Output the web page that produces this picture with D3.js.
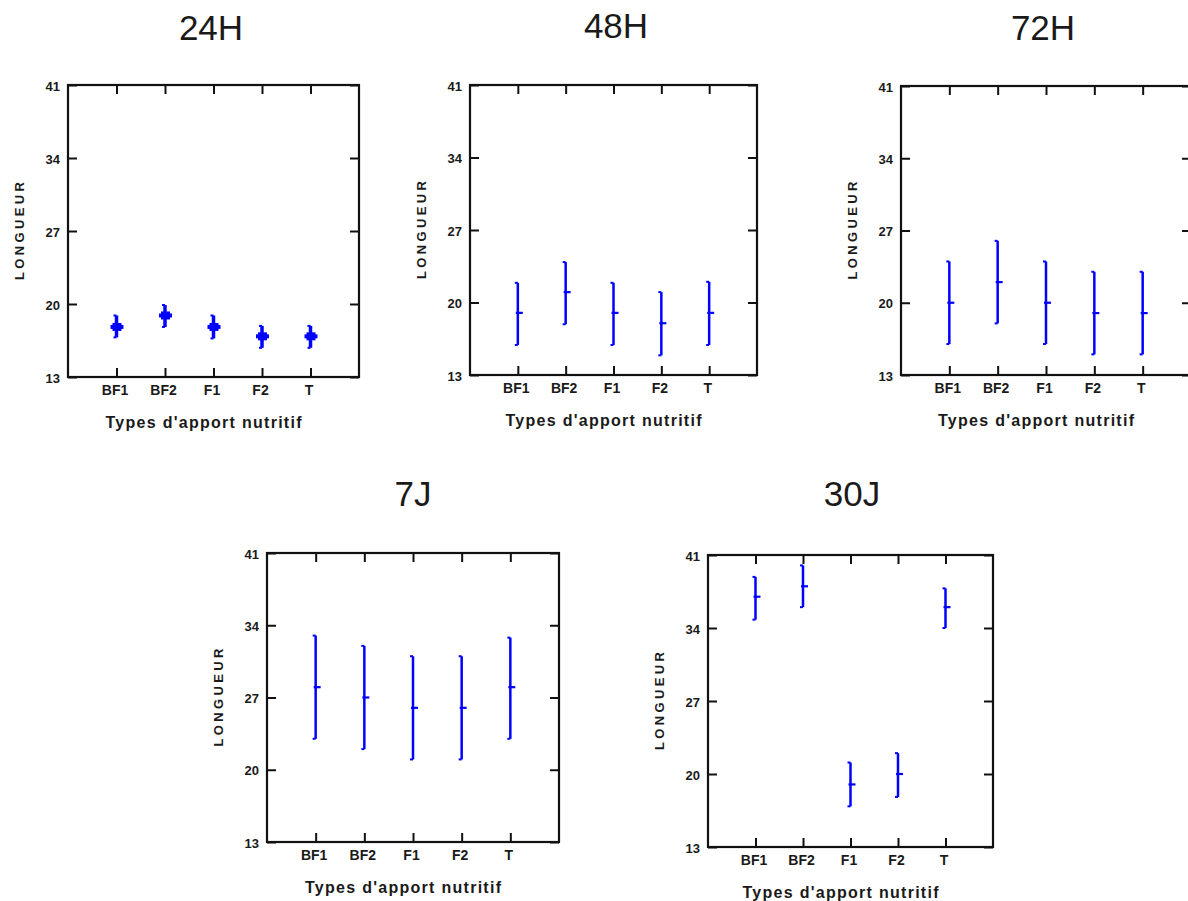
<!DOCTYPE html>
<html>
<head>
<meta charset="utf-8">
<script src="https://cdn.jsdelivr.net/npm/d3@7"></script>
<style>
  body { margin: 0; background: #fff; }
  svg { display: block; }
  text { font-family: "Liberation Sans", Arial, sans-serif; fill: #1a1a1a; }
</style>
</head>
<body>
<div id="chart"></div>
<script>
// data
var categories = ["BF1", "BF2", "F1", "F2", "T"];
var yTicks = [13, 20, 27, 34, 41];
var titles = ["24H", "48H", "72H", "7J", "30J"];

var mean24H = [17.8, 18.9, 17.8, 16.9, 16.9];
var low24H  = [16.8, 17.8, 16.7, 15.8, 15.8];
var high24H = [18.9, 19.9, 18.9, 17.9, 17.9];

var mean48H = [19, 21, 19, 18, 19];
var low48H  = [15.9, 17.9, 15.9, 14.9, 15.9];
var high48H = [21.9, 23.9, 21.9, 21, 22];

var mean72H = [20, 22, 20, 19, 19];
var low72H  = [16, 18, 16, 15, 15];
var high72H = [24, 26, 24, 23, 23];

var mean7J = [28, 27, 26, 26, 28];
var low7J  = [23, 22, 21, 21, 23];
var high7J = [33, 32, 31, 31, 32.8];

var mean30J = [37, 38, 19, 20, 36];
var low30J  = [34.8, 36, 16.9, 17.8, 34];
var high30J = [38.9, 40, 21.1, 22, 37.8];

var width = 1188, height = 901;

// panel frames (layout only)
var panels = [
  {title: titles[0], mean: mean24H, low: low24H, high: high24H, x0: 68,  x1: 359,  y0: 85,  y1: 377, tx: 211,  ty: 40,  big: true},
  {title: titles[1], mean: mean48H, low: low48H, high: high48H, x0: 470, x1: 757,  y0: 85,  y1: 375, tx: 616,  ty: 38},
  {title: titles[2], mean: mean72H, low: low72H, high: high72H, x0: 901, x1: 1191, y0: 86,  y1: 375, tx: 1043, ty: 40},
  {title: titles[3], mean: mean7J,  low: low7J,  high: high7J,  x0: 267, x1: 559,  y0: 553, y1: 842, tx: 413,  ty: 506},
  {title: titles[4], mean: mean30J, low: low30J, high: high30J, x0: 708, x1: 993,  y0: 555, y1: 847, tx: 852,  ty: 506}
];

var svg = d3.select("#chart").append("svg")
    .attr("width", width)
    .attr("height", height);

panels.forEach(function(p) {
  var g = svg.append("g");

  var x = d3.scalePoint().domain(categories).range([p.x0, p.x1]).padding(1);
  var y = d3.scaleLinear().domain([13, 41]).range([p.y1, p.y0]);

  // title
  g.append("text")
    .attr("x", p.tx).attr("y", p.ty)
    .attr("text-anchor", "middle")
    .style("font-size", "35px")
    .text(p.title);

  // axes with inward ticks
  var left = g.append("g").attr("transform", "translate(" + p.x0 + ",0)")
    .call(d3.axisLeft(y).tickValues(yTicks).tickSizeInner(-9).tickSizeOuter(0).tickPadding(8));
  var right = g.append("g").attr("transform", "translate(" + p.x1 + ",0)")
    .call(d3.axisRight(y).tickValues(yTicks).tickSizeInner(-9).tickSizeOuter(0).tickFormat(""));
  var top = g.append("g").attr("transform", "translate(0," + p.y0 + ")")
    .call(d3.axisTop(x).tickSizeInner(-9).tickSizeOuter(0).tickFormat(""));
  var bottom = g.append("g").attr("transform", "translate(0," + p.y1 + ")")
    .call(d3.axisBottom(x).tickSizeInner(-9).tickSizeOuter(0).tickPadding(8));

  [left, right, top, bottom].forEach(function(a) {
    a.select(".domain").remove();
    a.selectAll(".tick line").attr("stroke", "#111").attr("stroke-width", 2);
    a.selectAll(".tick text")
      .style("font-size", "14px")
      .style("font-family", "'Liberation Sans', Arial, sans-serif")
      .attr("fill", "#222");
  });
  left.selectAll(".tick text").attr("dy", "0.4em").style("font-size", "13px").style("font-weight", "bold");
  bottom.selectAll(".tick text").attr("dx", "-2").style("font-weight", "bold");

  // frame
  g.append("rect")
    .attr("x", p.x0).attr("y", p.y0)
    .attr("width", p.x1 - p.x0).attr("height", p.y1 - p.y0)
    .attr("fill", "none").attr("stroke", "#111").attr("stroke-width", 2.2);

  // axis titles
  g.append("text")
    .attr("x", (p.x0 + p.x1) / 2 - 10).attr("y", p.y1 + 51)
    .attr("text-anchor", "middle")
    .attr("textLength", 196).attr("lengthAdjust", "spacing")
    .style("font-size", "16px").style("font-weight", "bold")
    .text("Types d'apport nutritif");

  g.append("text")
    .attr("transform", "translate(" + (p.x0 - 44) + "," + ((p.y0 + p.y1) / 2) + ") rotate(-90)")
    .attr("text-anchor", "middle")
    .attr("textLength", 98).attr("lengthAdjust", "spacing")
    .style("font-size", "13px").style("font-weight", "bold")
    .text("LONGUEUR");

  // error bars
  var bars = g.selectAll(".bar")
    .data(categories.map(function(c, i) {
      return {cat: c, mean: p.mean[i], low: p.low[i], high: p.high[i]};
    }))
    .enter().append("g").attr("class", "bar");

  var sw = p.big ? 3.5 : 2.5;

  bars.append("line")
    .attr("x1", function(d) { return x(d.cat); })
    .attr("x2", function(d) { return x(d.cat); })
    .attr("y1", function(d) { return y(d.low); })
    .attr("y2", function(d) { return y(d.high); })
    .attr("stroke", "#0000ff").attr("stroke-width", sw);

  // end caps, small, to the left
  ["low", "high"].forEach(function(k) {
    bars.append("line")
      .attr("x1", function(d) { return x(d.cat) - 3; })
      .attr("x2", function(d) { return x(d.cat); })
      .attr("y1", function(d) { return y(d[k]); })
      .attr("y2", function(d) { return y(d[k]); })
      .attr("stroke", "#0000ff").attr("stroke-width", 2);
  });

  // mean tick
  bars.append("line")
    .attr("x1", function(d) { return x(d.cat) - (p.big ? 6 : 2); })
    .attr("x2", function(d) { return x(d.cat) + (p.big ? 7 : 5); })
    .attr("y1", function(d) { return y(d.mean); })
    .attr("y2", function(d) { return y(d.mean); })
    .attr("stroke", "#0000ff").attr("stroke-width", p.big ? 4 : 2.2);

  if (p.big) {
    bars.append("rect")
      .attr("x", function(d) { return x(d.cat) - 4; })
      .attr("y", function(d) { return y(d.mean) - 4; })
      .attr("width", 9).attr("height", 8)
      .attr("fill", "#0000ff");
  }
});
</script>
</body>
</html>
